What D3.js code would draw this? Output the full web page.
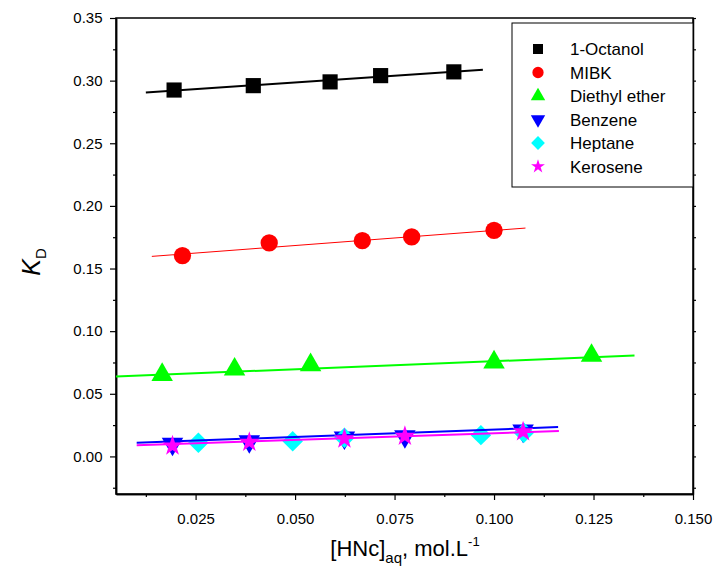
<!DOCTYPE html>
<html>
<head>
<meta charset="utf-8">
<script src="https://cdn.jsdelivr.net/npm/d3@7"></script>
<style>
  html, body { margin: 0; padding: 0; background: #fff; }
  svg { display: block; font-family: "Liberation Sans", Arial, sans-serif; }
</style>
</head>
<body>
<svg id="chart" width="719" height="575"></svg>
<script>
// ---- Data ----
const seriesNames = ["1-Octanol", "MIBK", "Diethyl ether", "Benzene", "Heptane", "Kerosene"];
const seriesColors = ["#000000", "#ff0000", "#00ff00", "#0000ff", "#00ffff", "#ff00ff"];

const octanolX = [0.0196, 0.0395, 0.0588, 0.0715, 0.0899];
const octanolY = [0.2925, 0.2960, 0.2990, 0.3040, 0.3070];

const mibkX = [0.0217, 0.0435, 0.0669, 0.0793, 0.1000];
const mibkY = [0.1603, 0.1704, 0.1722, 0.1752, 0.1805];

const etherX = [0.0166, 0.0348, 0.0539, 0.1000, 0.1245];
const etherY = [0.0652, 0.0695, 0.0730, 0.0752, 0.0805];

const benzeneX = [0.0192, 0.0385, 0.0624, 0.0776, 0.1073];
const benzeneY = [0.0100, 0.0120, 0.0150, 0.0160, 0.0205];

const heptaneX = [0.0257, 0.0494, 0.0624, 0.0967, 0.1075];
const heptaneY = [0.0109, 0.0122, 0.0149, 0.0170, 0.0189];

const keroseneX = [0.0192, 0.0385, 0.0624, 0.0776, 0.1073];
const keroseneY = [0.0085, 0.0114, 0.0141, 0.0162, 0.0197];

// fitted straight lines: [x0, x1], [y0, y1]
const octanolFitX = [0.0125, 0.0972];
const octanolFitY = [0.2905, 0.3086];
const mibkFitX = [0.0140, 0.1079];
const mibkFitY = [0.1597, 0.1823];
const etherFitX = [0.0050, 0.1353];
const etherFitY = [0.0638, 0.0805];
const benzeneFitX = [0.0102, 0.1161];
const benzeneFitY = [0.0109, 0.0234];
const keroseneFitX = [0.0102, 0.1163];
const keroseneFitY = [0.0090, 0.0202];

const xTicks = [0.025, 0.050, 0.075, 0.100, 0.125, 0.150];
const yTicks = [0.00, 0.05, 0.10, 0.15, 0.20, 0.25, 0.30, 0.35];

// ---- Layout ----
const padL = 116, padR = 693, padT = 18, padB = 494;
const svg = d3.select("#chart");
const x = d3.scaleLinear().domain([0.005, 0.150]).range([padL, padR]);
const y = d3.scaleLinear().domain([-0.03, 0.35]).range([padB, padT]);

// frame
svg.append("rect").attr("x", padL).attr("y", padT)
  .attr("width", padR - padL).attr("height", padB - padT)
  .attr("fill", "none").attr("stroke", "#000").attr("stroke-width", 1.5);

// axes
const xMinor = d3.range(0.0125, 0.150, 0.025);
const yMinor = d3.range(-0.025, 0.35, 0.05);

const xAxis = d3.axisBottom(x).tickValues(xTicks).tickFormat(d3.format(".3f")).tickSize(6).tickSizeOuter(0);
const gx = svg.append("g").attr("transform", `translate(0,${padB})`).call(xAxis);
const xAxisMinor = d3.axisBottom(x).tickValues(xMinor).tickFormat("").tickSize(3).tickSizeOuter(0);
svg.append("g").attr("transform", `translate(0,${padB})`).call(xAxisMinor);

const yAxis = d3.axisLeft(y).tickValues(yTicks).tickFormat(d3.format(".2f")).tickSize(6).tickSizeOuter(0);
const gy = svg.append("g").attr("transform", `translate(${padL},0)`).call(yAxis);
const yAxisMinor = d3.axisLeft(y).tickValues(yMinor).tickFormat("").tickSize(3).tickSizeOuter(0);
svg.append("g").attr("transform", `translate(${padL},0)`).call(yAxisMinor);

// right axis small ticks
const yRight = d3.axisRight(y).tickValues(yTicks.concat(yMinor)).tickFormat("").tickSize(3).tickSizeOuter(0);
svg.append("g").attr("transform", `translate(${padR},0)`).call(yRight);

svg.selectAll(".domain").attr("stroke", "#000").attr("stroke-width", 1.5);
svg.selectAll(".tick line").attr("stroke", "#000").attr("stroke-width", 1.2);
svg.selectAll(".tick text").attr("font-size", 15).attr("fill", "#000")
  .attr("font-family", "Liberation Sans, Arial, sans-serif");
gx.selectAll(".tick text").attr("dy", "1.4em");
gy.selectAll(".tick text").attr("dx", "-0.3em");

// axis titles
const xt = svg.append("text").attr("x", 405).attr("y", 556)
  .attr("text-anchor", "middle").attr("font-size", 22).attr("fill", "#000");
xt.append("tspan").text("[HNc]");
xt.append("tspan").attr("font-size", 15).attr("dy", 7).text("aq");
xt.append("tspan").attr("dy", -7).text(", mol.L");
xt.append("tspan").attr("font-size", 13).attr("dy", -10).text("-1");

const yt = svg.append("text").attr("transform", `translate(40,262) rotate(-90)`)
  .attr("text-anchor", "middle").attr("font-size", 25).attr("fill", "#000");
yt.append("tspan").attr("font-style", "italic").text("K");
yt.append("tspan").attr("font-size", 15).attr("dy", 6).text("D");

// ---- symbols ----
function symPath(kind, size) {
  const types = {
    square: d3.symbolSquare, circle: d3.symbolCircle, up: d3.symbolTriangle,
    down: d3.symbolTriangle, diamond: d3.symbolSquare, star: d3.symbolStar
  };
  return d3.symbol().type(types[kind]).size(size)();
}
function symRotate(kind) {
  if (kind === "down") return 180;
  if (kind === "diamond") return 45;
  return 0;
}
const kinds = ["square", "circle", "up", "down", "diamond", "star"];
const bigSizes = [230, 235, 200, 200, 210, 135];
const smallSizes = [100, 100, 90, 90, 95, 60];

function drawLine(fx, fy, color, w) {
  const pts = fx.map((d, i) => [x(d), y(fy[i])]);
  svg.append("path").attr("d", d3.line()(pts)).attr("fill", "none")
    .attr("stroke", color).attr("stroke-width", w);
}
function drawPoints(xs, ys, idx) {
  const k = kinds[idx];
  svg.append("g").selectAll("path").data(xs.map((d, i) => [d, ys[i]])).join("path")
    .attr("d", symPath(k, bigSizes[idx]))
    .attr("transform", d => `translate(${x(d[0])},${y(d[1])}) rotate(${symRotate(k)})`)
    .attr("fill", seriesColors[idx]);
}

drawLine(octanolFitX, octanolFitY, seriesColors[0], 2);
drawPoints(octanolX, octanolY, 0);
drawLine(mibkFitX, mibkFitY, seriesColors[1], 1);
drawPoints(mibkX, mibkY, 1);
drawLine(etherFitX, etherFitY, seriesColors[2], 2);
drawPoints(etherX, etherY, 2);
drawPoints(benzeneX, benzeneY, 3);
drawPoints(heptaneX, heptaneY, 4);
drawLine(benzeneFitX, benzeneFitY, seriesColors[3], 2);
drawLine(keroseneFitX, keroseneFitY, seriesColors[5], 2);
drawPoints(keroseneX, keroseneY, 5);

// ---- legend ----
const lg = svg.append("g");
lg.append("rect").attr("x", 512).attr("y", 23).attr("width", padR - 512).attr("height", 164)
  .attr("fill", "#fff").attr("stroke", "#000").attr("stroke-width", 1);
seriesNames.forEach((name, i) => {
  const cy = 49 + i * 23.5;
  lg.append("path").attr("d", symPath(kinds[i], smallSizes[i]))
    .attr("transform", `translate(538,${cy}) rotate(${symRotate(kinds[i])})`)
    .attr("fill", seriesColors[i]);
  lg.append("text").attr("x", 570).attr("y", cy + 6).attr("font-size", 17)
    .attr("fill", "#000").text(name);
});
</script>
</body>
</html>
